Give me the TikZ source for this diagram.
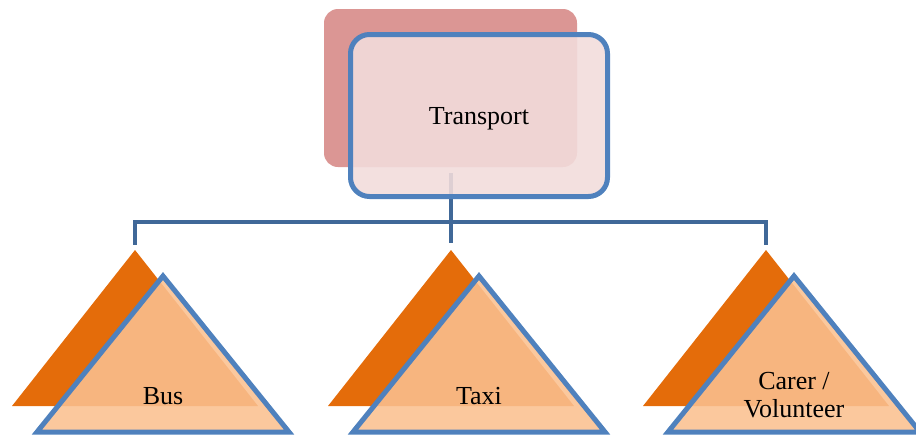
\documentclass[tikz,border=0pt]{standalone}
\usepackage{fontspec}
\setmainfont{Liberation Serif}
\definecolor{backred}{RGB}{219,150,148}
\definecolor{frontpink}{RGB}{242,220,219}
\definecolor{edgeblue}{RGB}{79,129,189}
\definecolor{connblue}{RGB}{64,104,152}
\definecolor{backorange}{RGB}{228,108,10}
\definecolor{frontorange}{RGB}{250,192,144}
\begin{document}
\begin{tikzpicture}[x=1pt,y=-1pt,
  backbox/.style={rectangle, rounded corners=14pt, fill=backred, draw=none, inner sep=0pt},
  frontbox/.style={rectangle, rounded corners=19pt, fill=frontpink, fill opacity=0.89, text opacity=1, draw=edgeblue, line width=5pt, inner sep=0pt},
  conn/.style={draw=connblue, line width=4pt},
  backtri/.style={fill=backorange, draw=none},
  fronttri/.style={fill=frontorange, fill opacity=0.88, draw=edgeblue, draw opacity=1, line width=5pt, line join=miter},
  lbl/.style={inner sep=0pt, align=center, font=\fontsize{26}{28}\selectfont}]
\useasboundingbox (0,0) rectangle (916,437);
% back box
\node[backbox, minimum width=253pt, minimum height=158pt] (shadow) at (450.5,88) {};
% connector coordinates
\coordinate (hub) at (451,173);
\coordinate (bar) at (451,222);
\coordinate (busA) at (135,243);
\coordinate (taxiA) at (451,243);
\coordinate (carerA) at (766,243);
\draw[conn] (hub) -- (taxiA);
\draw[conn, line cap=rect] (busA) |- (bar) -| (carerA);
% front box
\node[frontbox, minimum width=257pt, minimum height=162pt] (transport) at (479,115.5) {};
\node[lbl] (transportlbl) at (479,119) {Transport};
% triangles
\foreach \bx/\name in {135/bus, 451/taxi, 766/carer}{
  \fill[backtri] (\bx,250) -- (\bx+123,406) -- (\bx-123,406) -- cycle;
  \draw[fronttri] (\bx+28,276) -- (\bx+28+126,432) -- (\bx+28-126,432) -- cycle;
}
\node[lbl] (buslbl) at (163,396) {Bus};
\node[lbl] (taxilbl) at (479,396) {Taxi};
\node[lbl] (carerlbl) at (794,395) {Carer /\\Volunteer};
\end{tikzpicture}
\end{document}
